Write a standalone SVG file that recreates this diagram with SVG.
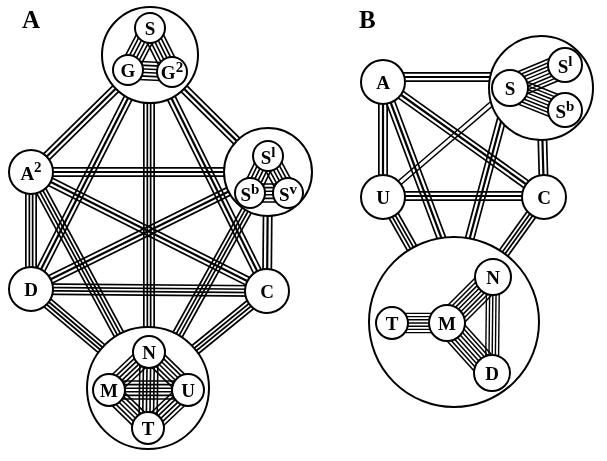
<svg xmlns="http://www.w3.org/2000/svg" xmlns:xlink="http://www.w3.org/1999/xlink" width="607" height="461" viewBox="0 0 607 461">
<style>
.bd{mix-blend-mode:multiply}
use{fill:none}
.k{stroke:#000}.w{stroke:#fff}
.b3a{stroke:#000;stroke-width:10}.b3b{stroke:#fff;stroke-width:6.6}.b3c{stroke:#000;stroke-width:2.2}
.b4a{stroke:#000;stroke-width:12}.b4b{stroke:#fff;stroke-width:8.6}.b4c{stroke:#000;stroke-width:5}.b4d{stroke:#fff;stroke-width:1.6}
.b2a{stroke:#000;stroke-width:6}.b2b{stroke:#fff;stroke-width:3}
.w1{stroke-width:1.4}.w18{stroke-width:2}.w19{stroke-width:1.9}.w46{stroke-width:5.2}.w49{stroke-width:4.9}.w5{stroke-width:5}.w78{stroke-width:7.8}.w82{stroke-width:9.2}.w87{stroke-width:8.7}.w11{stroke-width:12.4}.w114{stroke-width:11.4}.w117{stroke-width:11.7}.w142{stroke-width:14.2}.w146{stroke-width:16.4}.w155{stroke-width:15.5}.w174{stroke-width:19.6}.w178{stroke-width:17.8}.w185{stroke-width:18.5}.w206{stroke-width:20.6}.w223{stroke-width:22.3}.w253{stroke-width:25.3}
.big{fill:#fff;stroke:#000;stroke-width:2}
.nd{fill:#fff;stroke:#000;stroke-width:2}
.t{font-family:"Liberation Serif","Times New Roman",serif;font-weight:bold;font-size:19px;text-anchor:middle;fill:#000}
.sup{font-size:15px}
.lab{font-family:"Liberation Serif","Times New Roman",serif;font-weight:bold;font-size:25px;fill:#000}
</style>
<defs>
<path id="a1" d="M150 55L31 172"/>
<path id="a2" d="M150 55L31 289"/>
<path id="a3" d="M150 55L267 291"/>
<path id="a4" d="M150 55L268 172"/>
<path id="a5" d="M31 172L268 172"/>
<path id="a6" d="M31 172L267 291"/>
<path id="a7" d="M31 289L268 172"/>
<path id="a8" d="M268 172L267 291"/>
<path id="a9" d="M149 55L149 388"/>
<path id="a10" d="M31 172L31 289"/>
<path id="a11" d="M31 289L267 291"/>
<path id="a12" d="M31 172L148 388"/>
<path id="a13" d="M31 289L148 388"/>
<path id="a14" d="M267 291L148 388"/>
<path id="a15" d="M268 172L148 388"/>
<path id="ai1" d="M150 28L128 70"/>
<path id="ai2" d="M150 28L172 72"/>
<path id="ai3" d="M128 70L172 72"/>
<path id="ai4" d="M268 156L250 193"/>
<path id="ai5" d="M268 156L288 193"/>
<path id="ai6" d="M250 193L288 193"/>
<path id="ai7" d="M149 352L109 390"/>
<path id="ai8" d="M149 352L188 390"/>
<path id="ai9" d="M109 390L148 428"/>
<path id="ai10" d="M188 390L148 428"/>
<path id="ai11" d="M149 352L148 428"/>
<path id="ai12" d="M109 390L188 390"/>
<path id="b1" d="M383 77L541 77"/>
<path id="b2" d="M383 82L383 197"/>
<path id="b3" d="M383 82L544 197"/>
<path id="b4" d="M383 82L492 373"/>
<path id="b5" d="M383 196L544 196"/>
<path id="b6" d="M541 88L544 197"/>
<path id="b7" d="M510 88L447 323"/>
<path id="b8" d="M383 197L510 88"/>
<path id="b9" d="M383 197L454 322"/>
<path id="b10" d="M544 197L454 322"/>
<path id="bi1" d="M510 88L565 65"/>
<path id="bi2" d="M510 88L565 110"/>
<path id="bi3" d="M392 323L447 323"/>
<path id="bi4" d="M447 323L493 277"/>
<path id="bi5" d="M447 323L492 373"/>
<path id="bi6" d="M493 277L492 373"/>
</defs>
<rect width="607" height="461" fill="#fff"/>
<text class="lab" x="22" y="28">A</text>
<text class="lab" x="359" y="28">B</text>

<g id="connectors-outer">
<g class="bd"><use href="#a1" class="b3a"/><use href="#a1" class="b3b"/><use href="#a1" class="b3c"/></g>
<g class="bd"><use href="#a2" class="b3a"/><use href="#a2" class="b3b"/><use href="#a2" class="b3c"/></g>
<g class="bd"><use href="#a3" class="b3a"/><use href="#a3" class="b3b"/><use href="#a3" class="b3c"/></g>
<g class="bd"><use href="#a4" class="b3a"/><use href="#a4" class="b3b"/><use href="#a4" class="b3c"/></g>
<g class="bd"><use href="#a5" class="b3a"/><use href="#a5" class="b3b"/><use href="#a5" class="b3c"/></g>
<g class="bd"><use href="#a6" class="b3a"/><use href="#a6" class="b3b"/><use href="#a6" class="b3c"/></g>
<g class="bd"><use href="#a7" class="b3a"/><use href="#a7" class="b3b"/><use href="#a7" class="b3c"/></g>
<g class="bd"><use href="#a8" class="b3a"/><use href="#a8" class="b3b"/><use href="#a8" class="b3c"/></g>
<g class="bd"><use href="#a9" class="b4a"/><use href="#a9" class="b4b"/><use href="#a9" class="b4c"/><use href="#a9" class="b4d"/></g>
<g class="bd"><use href="#a10" class="b4a"/><use href="#a10" class="b4b"/><use href="#a10" class="b4c"/><use href="#a10" class="b4d"/></g>
<g class="bd"><use href="#a11" class="b4a"/><use href="#a11" class="b4b"/><use href="#a11" class="b4c"/><use href="#a11" class="b4d"/></g>
<g class="bd"><use href="#a12" class="b4a"/><use href="#a12" class="b4b"/><use href="#a12" class="b4c"/><use href="#a12" class="b4d"/></g>
<g class="bd"><use href="#a13" class="b4a"/><use href="#a13" class="b4b"/><use href="#a13" class="b4c"/><use href="#a13" class="b4d"/></g>
<g class="bd"><use href="#a14" class="b4a"/><use href="#a14" class="b4b"/><use href="#a14" class="b4c"/><use href="#a14" class="b4d"/></g>
<g class="bd"><use href="#a15" class="b4a"/><use href="#a15" class="b4b"/><use href="#a15" class="b4c"/><use href="#a15" class="b4d"/></g>

<g class="bd"><use href="#b1" class="b3a"/><use href="#b1" class="b3b"/><use href="#b1" class="b3c"/></g>
<g class="bd"><use href="#b2" class="b3a"/><use href="#b2" class="b3b"/><use href="#b2" class="b3c"/></g>
<g class="bd"><use href="#b3" class="b3a"/><use href="#b3" class="b3b"/><use href="#b3" class="b3c"/></g>
<g class="bd"><use href="#b4" class="b3a"/><use href="#b4" class="b3b"/><use href="#b4" class="b3c"/></g>
<g class="bd"><use href="#b5" class="b3a"/><use href="#b5" class="b3b"/><use href="#b5" class="b3c"/></g>
<g class="bd"><use href="#b6" class="b3a"/><use href="#b6" class="b3b"/><use href="#b6" class="b3c"/></g>
<g class="bd"><use href="#b7" class="b3a"/><use href="#b7" class="b3b"/><use href="#b7" class="b3c"/></g>
<g class="bd"><use href="#b8" class="b2a"/><use href="#b8" class="b2b"/></g>
<g class="bd"><use href="#b9" class="b4a"/><use href="#b9" class="b4b"/><use href="#b9" class="b4c"/><use href="#b9" class="b4d"/></g>
<g class="bd"><use href="#b10" class="b4a"/><use href="#b10" class="b4b"/><use href="#b10" class="b4c"/><use href="#b10" class="b4d"/></g>
</g>

<g id="group-SGG2"><circle class="big" cx="150" cy="55" r="48"/></g>
<g id="group-SlSbSv"><circle class="big" cx="268" cy="172" r="44"/></g>
<g id="group-NMUT"><circle class="big" cx="148" cy="388" r="61"/></g>
<g id="group-B-SSlSb"><circle class="big" cx="541" cy="88" r="52"/></g>
<g id="group-B-TMND"><circle class="big" cx="454" cy="322" r="85"/></g>

<g id="connectors-inner">
<g class="bd"><use href="#ai1" class="k w174"/><use href="#ai1" class="w w146"/><use href="#ai1" class="k w11"/><use href="#ai1" class="w w82"/><use href="#ai1" class="k w46"/><use href="#ai1" class="w w18"/></g>
<g class="bd"><use href="#ai2" class="k w174"/><use href="#ai2" class="w w146"/><use href="#ai2" class="k w11"/><use href="#ai2" class="w w82"/><use href="#ai2" class="k w46"/><use href="#ai2" class="w w18"/></g>
<g class="bd"><use href="#ai3" class="k w174"/><use href="#ai3" class="w w146"/><use href="#ai3" class="k w11"/><use href="#ai3" class="w w82"/><use href="#ai3" class="k w46"/><use href="#ai3" class="w w18"/></g>
<g class="bd"><use href="#ai4" class="k w174"/><use href="#ai4" class="w w146"/><use href="#ai4" class="k w11"/><use href="#ai4" class="w w82"/><use href="#ai4" class="k w46"/><use href="#ai4" class="w w18"/></g>
<g class="bd"><use href="#ai5" class="k w174"/><use href="#ai5" class="w w146"/><use href="#ai5" class="k w11"/><use href="#ai5" class="w w82"/><use href="#ai5" class="k w46"/><use href="#ai5" class="w w18"/></g>
<g class="bd"><use href="#ai6" class="k w174"/><use href="#ai6" class="w w146"/><use href="#ai6" class="k w11"/><use href="#ai6" class="w w82"/><use href="#ai6" class="k w46"/><use href="#ai6" class="w w18"/></g>
<g class="bd"><use href="#ai7" class="k w174"/><use href="#ai7" class="w w146"/><use href="#ai7" class="k w11"/><use href="#ai7" class="w w82"/><use href="#ai7" class="k w46"/><use href="#ai7" class="w w18"/></g>
<g class="bd"><use href="#ai8" class="k w174"/><use href="#ai8" class="w w146"/><use href="#ai8" class="k w11"/><use href="#ai8" class="w w82"/><use href="#ai8" class="k w46"/><use href="#ai8" class="w w18"/></g>
<g class="bd"><use href="#ai9" class="k w174"/><use href="#ai9" class="w w146"/><use href="#ai9" class="k w11"/><use href="#ai9" class="w w82"/><use href="#ai9" class="k w46"/><use href="#ai9" class="w w18"/></g>
<g class="bd"><use href="#ai10" class="k w174"/><use href="#ai10" class="w w146"/><use href="#ai10" class="k w11"/><use href="#ai10" class="w w82"/><use href="#ai10" class="k w46"/><use href="#ai10" class="w w18"/></g>
<g class="bd"><use href="#ai11" class="k w174"/><use href="#ai11" class="w w146"/><use href="#ai11" class="k w11"/><use href="#ai11" class="w w82"/><use href="#ai11" class="k w46"/><use href="#ai11" class="w w18"/></g>
<g class="bd"><use href="#ai12" class="k w174"/><use href="#ai12" class="w w146"/><use href="#ai12" class="k w11"/><use href="#ai12" class="w w82"/><use href="#ai12" class="k w46"/><use href="#ai12" class="w w18"/></g>

<g class="bd"><use href="#bi1" class="k w253"/><use href="#bi1" class="w w223"/><use href="#bi1" class="k w185"/><use href="#bi1" class="w w155"/><use href="#bi1" class="k w117"/><use href="#bi1" class="w w87"/><use href="#bi1" class="k w49"/><use href="#bi1" class="w w19"/></g>
<g class="bd"><use href="#bi2" class="k w253"/><use href="#bi2" class="w w223"/><use href="#bi2" class="k w185"/><use href="#bi2" class="w w155"/><use href="#bi2" class="k w117"/><use href="#bi2" class="w w87"/><use href="#bi2" class="k w49"/><use href="#bi2" class="w w19"/></g>
<g class="bd"><use href="#bi3" class="k w206"/><use href="#bi3" class="w w178"/><use href="#bi3" class="k w142"/><use href="#bi3" class="w w114"/><use href="#bi3" class="k w78"/><use href="#bi3" class="w w5"/><use href="#bi3" class="k w1"/></g>
<g class="bd"><use href="#bi4" class="k w253"/><use href="#bi4" class="w w223"/><use href="#bi4" class="k w185"/><use href="#bi4" class="w w155"/><use href="#bi4" class="k w117"/><use href="#bi4" class="w w87"/><use href="#bi4" class="k w49"/><use href="#bi4" class="w w19"/></g>
<g class="bd"><use href="#bi5" class="k w253"/><use href="#bi5" class="w w223"/><use href="#bi5" class="k w185"/><use href="#bi5" class="w w155"/><use href="#bi5" class="k w117"/><use href="#bi5" class="w w87"/><use href="#bi5" class="k w49"/><use href="#bi5" class="w w19"/></g>
<g class="bd"><use href="#bi6" class="k w142"/><use href="#bi6" class="w w114"/><use href="#bi6" class="k w78"/><use href="#bi6" class="w w5"/><use href="#bi6" class="k w1"/></g>
</g>

<g id="node-S"><circle class="nd" cx="150" cy="28" r="15"/><text class="t" x="150" y="35">S</text></g>
<g id="node-G"><circle class="nd" cx="128" cy="70" r="15"/><text class="t" x="128" y="77">G</text></g>
<g id="node-G2"><circle class="nd" cx="172" cy="72" r="15"/><text class="t" x="172" y="79">G<tspan class="sup" dy="-7">2</tspan></text></g>
<g id="node-A2"><circle class="nd" cx="31" cy="172" r="22"/><text class="t" x="31" y="180">A<tspan class="sup" dy="-8">2</tspan></text></g>
<g id="node-D"><circle class="nd" cx="31" cy="289" r="22"/><text class="t" x="31" y="296">D</text></g>
<g id="node-C"><circle class="nd" cx="267" cy="291" r="22"/><text class="t" x="267" y="298">C</text></g>
<g id="node-Sl"><circle class="nd" cx="268" cy="156" r="15"/><text class="t" x="268" y="164">S<tspan class="sup" dy="-7">l</tspan></text></g>
<g id="node-Sb"><circle class="nd" cx="250" cy="193" r="15"/><text class="t" x="250" y="201">S<tspan class="sup" dy="-7">b</tspan></text></g>
<g id="node-Sv"><circle class="nd" cx="288" cy="193" r="15"/><text class="t" x="288" y="201">S<tspan class="sup" dy="-7">v</tspan></text></g>
<g id="node-N"><circle class="nd" cx="149" cy="352" r="16"/><text class="t" x="149" y="359">N</text></g>
<g id="node-M"><circle class="nd" cx="109" cy="390" r="16"/><text class="t" x="109" y="397">M</text></g>
<g id="node-U"><circle class="nd" cx="188" cy="390" r="16"/><text class="t" x="188" y="397">U</text></g>
<g id="node-T"><circle class="nd" cx="148" cy="428" r="16"/><text class="t" x="148" y="435">T</text></g>

<g id="node-B-A"><circle class="nd" cx="383" cy="82" r="22"/><text class="t" x="383" y="89">A</text></g>
<g id="node-B-U"><circle class="nd" cx="383" cy="197" r="22"/><text class="t" x="383" y="204">U</text></g>
<g id="node-B-C"><circle class="nd" cx="544" cy="197" r="22"/><text class="t" x="544" y="204">C</text></g>
<g id="node-B-S"><circle class="nd" cx="510" cy="88" r="18"/><text class="t" x="510" y="95">S</text></g>
<g id="node-B-Sl"><circle class="nd" cx="565" cy="65" r="17"/><text class="t" x="565" y="73">S<tspan class="sup" dy="-7">l</tspan></text></g>
<g id="node-B-Sb"><circle class="nd" cx="565" cy="110" r="17"/><text class="t" x="565" y="118">S<tspan class="sup" dy="-7">b</tspan></text></g>
<g id="node-B-T"><circle class="nd" cx="392" cy="323" r="16"/><text class="t" x="392" y="330">T</text></g>
<g id="node-B-M"><circle class="nd" cx="447" cy="323" r="18"/><text class="t" x="447" y="330">M</text></g>
<g id="node-B-N"><circle class="nd" cx="493" cy="277" r="18"/><text class="t" x="493" y="284">N</text></g>
<g id="node-B-D"><circle class="nd" cx="492" cy="373" r="18"/><text class="t" x="492" y="380">D</text></g>
</svg>
